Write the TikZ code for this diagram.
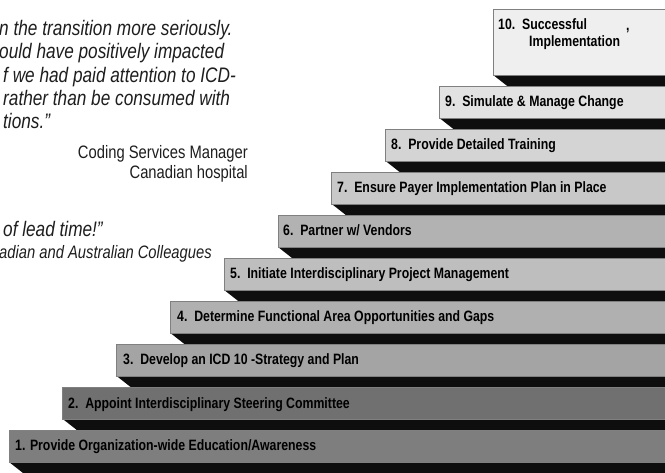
\documentclass[tikz,border=0pt]{standalone}
\usepackage{fontspec}
\setmainfont{Liberation Sans}
\newfontfamily\narrowfont[FakeStretch=0.82]{Liberation Sans}
\definecolor{s1}{HTML}{7E7E7E}
\definecolor{s2}{HTML}{707070}
\definecolor{s3}{HTML}{A4A4A4}
\definecolor{s4}{HTML}{B0B0B0}
\definecolor{s5}{HTML}{BEBEBE}
\definecolor{s6}{HTML}{B2B2B2}
\definecolor{s7}{HTML}{C8C8C8}
\definecolor{s8}{HTML}{D4D4D4}
\definecolor{s9}{HTML}{E2E2E2}
\definecolor{s10}{HTML}{EFEFEF}
\definecolor{band}{HTML}{0E0E0E}
\definecolor{quotecol}{HTML}{1E1E1E}
\tikzset{
  face/.style={draw=black!50, line width=0.7pt},
  bandshape/.style={fill=band},
  steptext/.style={font=\narrowfont\bfseries\fontsize{15}{17}\selectfont, text=black, inner sep=0pt, anchor=base west},
  quotetext/.style={font=\narrowfont\itshape\fontsize{21}{24}\selectfont, text=quotecol, inner sep=0pt, anchor=base west},
  attrib/.style={font=\narrowfont\fontsize{18}{21}\selectfont, text=quotecol, inner sep=0pt, anchor=base east},
  attribit/.style={font=\narrowfont\itshape\fontsize{18}{21}\selectfont, text=quotecol, inner sep=0pt, anchor=base west}
}
\begin{document}
\begin{tikzpicture}[x=1pt,y=-1pt]
\useasboundingbox (0,0) rectangle (665,473);
\clip (0,0) rectangle (665,473);
\fill[white] (0,0) rectangle (665,473);
% steps
\foreach \i in {1,...,10}{
  \pgfmathsetmacro{\xl}{9+53.8*(\i-1)}
  \pgfmathsetmacro{\tp}{ifthenelse(\i==10,9,430-43*(\i-1))}
  \pgfmathsetmacro{\fb}{430-43*(\i-1)+32}
  \pgfmathsetmacro{\bb}{430-43*(\i-1)+43}
  \fill[bandshape] (\xl,\fb) -- (680,\fb) -- (680,\bb) -- (\xl+14,\bb) -- cycle;
  \filldraw[face, fill=s\i] (\xl,\tp) rectangle (680,\fb);
}
% step labels
\node[steptext] (t1) at (15,451) {1. Provide Organization-wide Education/Awareness};
\node[steptext] (t2) at (68,409) {2.\ \ Appoint Interdisciplinary Steering Committee};
\node[steptext] (t3) at (123,365) {3.\ \ Develop an ICD 10 -Strategy and Plan};
\node[steptext] (t4) at (177,322) {4.\ \ Determine Functional Area Opportunities and Gaps};
\node[steptext] (t5) at (230,279) {5.\ \ Initiate Interdisciplinary Project Management};
\node[steptext] (t6) at (283,236) {6.\ \ Partner w/ Vendors};
\node[steptext] (t7) at (337,193) {7.\ \ Ensure Payer Implementation Plan in Place};
\node[steptext] (t8) at (391,150) {8.\ \ Provide Detailed Training};
\node[steptext] (t9) at (445,107) {9.\ \ Simulate \& Manage Change};
\node[steptext] (t10a) at (498,30) {10.\ \ Successful};
\node[steptext] (t10b) at (529,47) {Implementation};
\node[steptext] (t10c) at (626,31) {,};
% quote
\node[quotetext] (q1) at (-1,36) {n the transition more seriously.};
\node[quotetext] (q2) at (-1,59) {ould have positively impacted};
\node[quotetext] (q3) at (3,83) {f we had paid attention to ICD-};
\node[quotetext] (q4) at (3,106) {rather than be consumed with};
\node[quotetext] (q5) at (3,129) {tions.”};
\node[attrib] (a1) at (248,159) {Coding Services Manager};
\node[attrib] (a2) at (248,179) {Canadian hospital};
\node[quotetext] (q6) at (3,237) {of lead time!”};
\node[attribit] (a3) at (-1,259) {adian and Australian Colleagues};
\end{tikzpicture}
\end{document}
